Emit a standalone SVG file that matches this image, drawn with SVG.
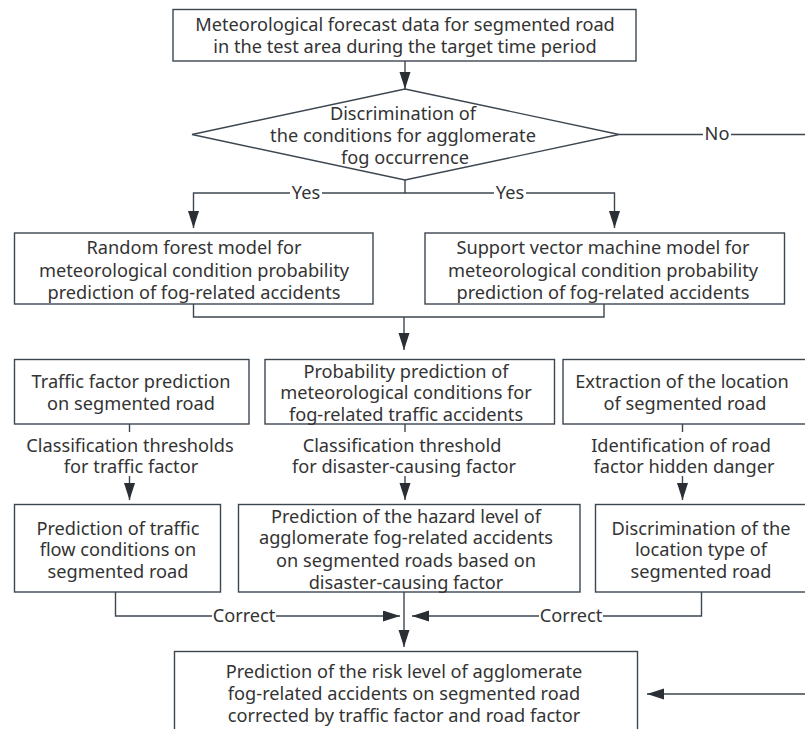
<svg xmlns="http://www.w3.org/2000/svg" width="805" height="729" viewBox="0 0 805 729">
<style>
.box{fill:#fff;stroke:#3c4650;stroke-width:1.4}
.ln{fill:none;stroke:#3c4650;stroke-width:1.4}
.arr{fill:none;stroke:#3c4650;stroke-width:1.4;marker-end:url(#ah)}
text{font-family:"Noto Sans","Open Sans","Liberation Sans",sans-serif;font-size:18.2px;fill:#333;text-anchor:middle}
</style>
<defs>
<marker id="ah" markerUnits="userSpaceOnUse" markerWidth="17" markerHeight="12" refX="17" refY="5.5" orient="auto">
<path d="M0,0 L17,5.5 L0,11 z" fill="#2a2f35"/>
</marker>
</defs>
<rect width="805" height="729" fill="#fff"/>
<g id="connectors">
<path class="arr" d="M405 61 V89"/>
<path class="ln" d="M405 180 V193 H322"/>
<path class="arr" d="M290 193 H193.5 V228"/>
<path class="ln" d="M405 193 H494"/>
<path class="arr" d="M526 193 H614.5 V228"/>
<text x="306" y="199">Yes</text>
<text x="510" y="199">Yes</text>
<path class="ln" d="M619 134.5 H703"/>
<path class="arr" d="M731 134.5 H812 V694 H647"/>
<text x="717" y="140">No</text>
<path class="ln" d="M193.5 304 V317 H604 V304"/>
<path class="arr" d="M404 317 V350"/>
<path class="ln" d="M129.5 424 V432"/>
<path class="arr" d="M129.5 476 V500"/>
<text x="130" y="452">Classification thresholds</text>
<text x="131" y="473">for traffic factor</text>
<path class="ln" d="M405 424 V432"/>
<path class="arr" d="M405 476 V500"/>
<text x="402" y="452">Classification threshold</text>
<text x="404" y="473">for disaster-causing factor</text>
<path class="ln" d="M682.5 424 V432"/>
<path class="arr" d="M682.5 476 V500"/>
<text x="681" y="452">Identification of road</text>
<text x="684" y="473">factor hidden danger</text>
<path class="ln" d="M115.5 592 V616 H212"/>
<path class="arr" d="M276 616 H400"/>
<text x="244" y="622">Correct</text>
<path class="ln" d="M701.5 592 V616 H603"/>
<path class="arr" d="M539 616 H412"/>
<text x="571" y="622">Correct</text>
<path class="arr" d="M404 592 V647"/>
</g>
<g id="n1">
<rect class="box" x="173" y="9.5" width="463" height="51.5"/>
<text x="405" y="31">Meteorological forecast data for segmented road</text>
<text x="405" y="53">in the test area during the target time period</text>
</g>
<g id="n2">
<polygon class="box" points="405,89 619,134.5 405,180 192,134.5"/>
<text x="403" y="120">Discrimination of</text>
<text x="403" y="142">the conditions for agglomerate</text>
<text x="405" y="164">fog occurrence</text>
</g>
<g id="n3">
<rect class="box" x="14.5" y="233" width="358.5" height="71"/>
<text x="194" y="254">Random forest model for</text>
<text x="194" y="277">meteorological condition probability</text>
<text x="194" y="299">prediction of fog-related accidents</text>
</g>
<g id="n4">
<rect class="box" x="425" y="233" width="359.5" height="71"/>
<text x="603" y="254">Support vector machine model for</text>
<text x="603" y="277">meteorological condition probability</text>
<text x="603" y="299">prediction of fog-related accidents</text>
</g>
<g id="n5">
<rect class="box" x="14.5" y="359.5" width="234.5" height="64.5"/>
<text x="131" y="388">Traffic factor prediction</text>
<text x="131" y="410">on segmented road</text>
</g>
<g id="n6">
<rect class="box" x="265" y="359.5" width="289.5" height="64.5"/>
<text x="406" y="378">Probability prediction of</text>
<text x="406" y="399">meteorological conditions for</text>
<text x="406" y="421">fog-related traffic accidents</text>
</g>
<g id="n7">
<rect class="box" x="563" y="359.5" width="250" height="64.5"/>
<text x="682" y="388">Extraction of the location</text>
<text x="685" y="410">of segmented road</text>
</g>
<g id="n8">
<rect class="box" x="14.5" y="504.5" width="206" height="87.5"/>
<text x="118" y="535">Prediction of traffic</text>
<text x="118" y="556">flow conditions on</text>
<text x="118" y="578">segmented road</text>
</g>
<g id="n9">
<rect class="box" x="238.5" y="504.5" width="341.5" height="87.5"/>
<text x="406" y="523">Prediction of the hazard level of</text>
<text x="406" y="544">agglomerate fog-related accidents</text>
<text x="406" y="567">on segmented roads based on</text>
<text x="406" y="589">disaster-causing factor</text>
</g>
<g id="n10">
<rect class="box" x="595.5" y="504.5" width="220" height="87.5"/>
<text x="701" y="535">Discrimination of the</text>
<text x="701" y="556">location type of</text>
<text x="701" y="578">segmented road</text>
</g>
<g id="n11">
<rect class="box" x="174.5" y="651.5" width="463" height="90"/>
<text x="404" y="678">Prediction of the risk level of agglomerate</text>
<text x="404" y="700">fog-related accidents on segmented road</text>
<text x="404" y="722">corrected by traffic factor and road factor</text>
</g>
</svg>
